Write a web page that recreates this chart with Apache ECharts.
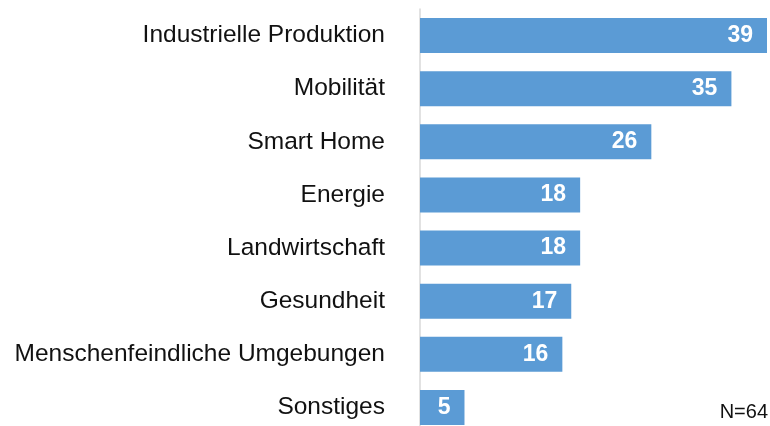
<!DOCTYPE html>
<html>
<head>
<meta charset="utf-8">
<script src="https://cdn.jsdelivr.net/npm/echarts@6/dist/echarts.min.js"></script>
<style>
  html, body { margin: 0; padding: 0; background: #fff; }
  #chart { width: 770px; height: 426px; }
</style>
</head>
<body>
<div id="chart"></div>
<script>
const categories = [
  'Industrielle Produktion',
  'Mobilität',
  'Smart Home',
  'Energie',
  'Landwirtschaft',
  'Gesundheit',
  'Menschenfeindliche Umgebungen',
  'Sonstiges'
]
const values = [39, 35, 26, 18, 18, 17, 16, 5]
const sampleNote = 'N=64'

const chart = echarts.init(document.getElementById('chart'))

chart.setOption({
  backgroundColor: '#fff',
  animation: false,
  grid: { left: 420, right: 3, top: 9, height: 425, outerBoundsMode: 'none' },
  xAxis: {
    type: 'value',
    min: 0,
    max: 39,
    show: false
  },
  yAxis: {
    type: 'category',
    data: categories,
    inverse: true,
    axisTick: { show: false },
    axisLine: { lineStyle: { color: '#d9d9d9', width: 1.5 } },
    axisLabel: {
      margin: 35,
      color: '#111',
      fontSize: 24.5,
      fontFamily: 'Liberation Sans, Arial, sans-serif'
    }
  },
  series: [{
    type: 'bar',
    data: values,
    barWidth: 35,
    itemStyle: { color: '#5b9bd5' },
    label: {
      show: true,
      position: 'insideRight',
      distance: 14,
      color: '#fff',
      fontSize: 23,
      fontWeight: 'bold',
      fontFamily: 'Liberation Sans, Arial, sans-serif'
    }
  }],
  graphic: [{
    type: 'text',
    right: 2,
    bottom: 4,
    style: {
      text: sampleNote,
      fontSize: 20,
      fill: '#111',
      fontFamily: 'Liberation Sans, Arial, sans-serif'
    }
  }]
})
</script>
</body>
</html>
